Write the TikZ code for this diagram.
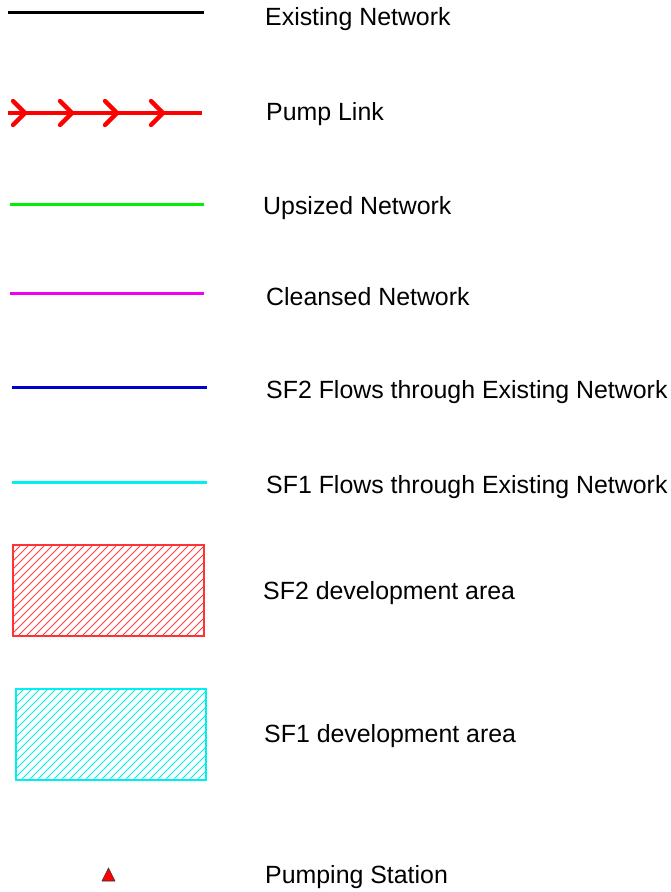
\documentclass[tikz,border=0pt]{standalone}
\usepackage{fontspec}
\setmainfont{Liberation Sans}
\definecolor{netgreen}{RGB}{0,240,0}
\definecolor{netmagenta}{RGB}{240,0,240}
\definecolor{netblue}{RGB}{0,0,210}
\definecolor{netcyan}{RGB}{0,240,240}
\definecolor{netred}{RGB}{255,0,0}
\begin{document}
\begin{tikzpicture}[x=1pt,y=-1pt,
  legline/.style={line width=3pt},
  legtext/.style={anchor=base west,inner sep=0pt,font=\fontsize{24.9}{29}\selectfont},
  hatchbox/.style={line width=1.2pt},
  hatchline/.style={line width=0.8pt},
  chevron/.style={netred,line width=4.3pt,line cap=round,line join=miter}]
\useasboundingbox (0,0) rectangle (671,892);

% Existing network
\draw[legline,black] (8,12) -- (204,12);
\node[legtext] (t1) at (265,25) {Existing Network};

% Pump link with flow chevrons
\draw[netred,line width=3.4pt] (8,113) -- (202,113);
\foreach \tx in {25,72,117,163}
  \draw[chevron] (\tx-12,101) -- (\tx,113) -- (\tx-12,125);
\node[legtext] (t2) at (266,120) {Pump Link};

% Upsized network
\draw[legline,netgreen] (10,204) -- (204,204);
\node[legtext] (t3) at (263,214) {Upsized Network};

% Cleansed network
\draw[legline,netmagenta] (10,293) -- (204,293);
\node[legtext] (t4) at (266,305) {Cleansed Network};

% SF2 flows
\draw[legline,netblue] (12,387) -- (207,387);
\node[legtext] (t5) at (266,398) {SF2 Flows through Existing Network};

% SF1 flows
\draw[legline,netcyan] (12,482) -- (207,482);
\node[legtext] (t6) at (266,493) {SF1 Flows through Existing Network};

% SF2 development area (hatched)
\begin{scope}
  \clip (13,545) rectangle (204,636);
  \foreach \k in {0,...,36}
    \draw[hatchline,netred!75] (13+8*\k-100,645) -- (13+8*\k,545);
\end{scope}
\draw[hatchbox,netred!80] (13,545) rectangle (204,636);
\node[legtext] (t7) at (263,599) {SF2 development area};

% SF1 development area (hatched)
\begin{scope}
  \clip (16,689) rectangle (206,780);
  \foreach \k in {0,...,36}
    \draw[hatchline,netcyan] (16+8*\k-100,789) -- (16+8*\k,689);
\end{scope}
\draw[hatchbox,netcyan] (16,689) rectangle (206,780);
\node[legtext] (t8) at (264,742) {SF1 development area};

% Pumping station symbol
\draw[fill=netred,draw=black!80,line width=0.6pt,line join=miter]
  (108.5,868) -- (115,881) -- (102,881) -- cycle;
\node[legtext] (t9) at (265,883) {Pumping Station};
\end{tikzpicture}
\end{document}
